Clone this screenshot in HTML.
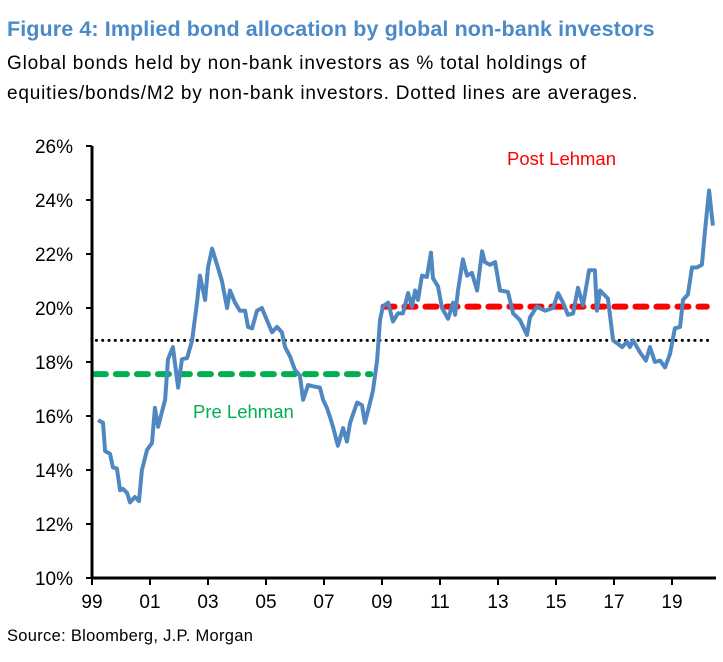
<!DOCTYPE html>
<html><head><meta charset="utf-8"><style>
body{margin:0;background:#fff;width:723px;height:662px;overflow:hidden;font-family:"Liberation Sans",sans-serif}
.t{position:absolute;left:7px;top:17px;font-size:21.5px;font-weight:bold;color:#4a8ac8;white-space:nowrap;letter-spacing:0.1px}
.s{position:absolute;left:7px;font-size:19px;color:#000;white-space:nowrap;letter-spacing:0.8px}
</style></head><body>
<div class="t">Figure 4: Implied bond allocation by global non-bank investors</div>
<div class="s" style="top:53px">Global bonds held by non-bank investors as % total holdings of</div>
<div class="s" style="top:83px">equities/bonds/M2 by non-bank investors. Dotted lines are averages.</div>
<svg id="c" width="723" height="662" style="position:absolute;left:0;top:0"></svg>
<script>
const yTicks=[10,12,14,16,18,20,22,24,26];
const xTicks=[1999,2001,2003,2005,2007,2009,2011,2013,2015,2017,2019];
const xTickLabels=["99","01","03","05","07","09","11","13","15","17","19"];
const dates=[1999.21,1999.38,1999.45,1999.62,1999.72,1999.86,1999.97,2000.07,2000.21,2000.31,2000.48,2000.62,2000.72,2000.9,2001.07,2001.17,2001.28,2001.52,2001.62,2001.79,2001.97,2002.1,2002.28,2002.45,2002.62,2002.72,2002.9,2003.0,2003.14,2003.34,2003.48,2003.66,2003.76,2003.93,2004.1,2004.28,2004.38,2004.52,2004.69,2004.86,2005.03,2005.21,2005.38,2005.55,2005.66,2005.83,2006.0,2006.17,2006.28,2006.45,2006.62,2006.86,2006.97,2007.1,2007.21,2007.31,2007.48,2007.66,2007.79,2007.9,2008.14,2008.31,2008.41,2008.59,2008.69,2008.83,2008.93,2009.03,2009.21,2009.38,2009.55,2009.72,2009.9,2010.03,2010.14,2010.24,2010.38,2010.55,2010.69,2010.76,2010.93,2011.07,2011.28,2011.45,2011.52,2011.62,2011.79,2011.93,2012.1,2012.28,2012.45,2012.55,2012.72,2012.9,2013.07,2013.34,2013.52,2013.76,2014.0,2014.1,2014.34,2014.62,2014.9,2015.07,2015.24,2015.41,2015.59,2015.76,2015.93,2016.14,2016.34,2016.41,2016.52,2016.79,2016.97,2017.1,2017.28,2017.45,2017.55,2017.66,2017.9,2018.1,2018.24,2018.41,2018.59,2018.76,2018.93,2019.1,2019.28,2019.38,2019.55,2019.69,2019.86,2020.03,2020.14,2020.28,2020.41];
const values=[15.85,15.75,14.7,14.6,14.1,14.05,13.25,13.3,13.15,12.8,13.0,12.85,14.0,14.75,15.0,16.3,15.6,16.6,18.1,18.55,17.05,18.1,18.15,18.8,20.2,21.2,20.3,21.5,22.2,21.5,21.0,20.0,20.65,20.2,19.9,19.9,19.3,19.25,19.9,20.0,19.55,19.1,19.3,19.1,18.55,18.2,17.7,17.5,16.6,17.15,17.1,17.05,16.6,16.3,15.95,15.6,14.9,15.55,15.05,15.75,16.5,16.4,15.75,16.5,16.95,18.05,19.55,20.05,20.2,19.5,19.8,19.8,20.55,20.05,20.65,20.3,21.2,21.15,22.05,21.1,20.8,20.0,19.6,20.2,19.75,20.65,21.8,21.2,21.3,20.65,22.1,21.7,21.6,21.7,20.65,20.6,19.8,19.55,19.0,19.65,20.05,19.9,20.0,20.55,20.2,19.75,19.8,20.75,20.1,21.4,21.4,19.9,20.65,20.35,18.8,18.7,18.55,18.75,18.55,18.8,18.35,18.05,18.55,18.0,18.05,17.8,18.3,19.25,19.3,20.3,20.5,21.5,21.5,21.6,22.9,24.35,23.05];
const avgNames=["overall","pre","post"];
const avgValues=[18.8,17.55,20.05];
const avgStart=[1999.15,1999.1,2009.05];
const avgEnd=[2020.4,2008.6,2020.2];
const avgColors=["#000","#00b050","#ff0000"];

const X=v=>92+(v-1999)*29, Y=v=>578-(v-10)*27;
const svg=document.getElementById('c'), NS='http://www.w3.org/2000/svg';
function mk(tag,a,p){const e=document.createElementNS(NS,tag);for(const k in a)e.setAttribute(k,a[k]);(p||svg).appendChild(e);return e;}
yTicks.forEach(v=>{
  const t=mk('text',{x:73,y:Y(v)+7,'text-anchor':'end','font-size':'19','font-family':'Liberation Sans, sans-serif'});
  t.textContent=v+'%';
  
  
  const l=mk('line',{x1:86,x2:92,y1:Y(v),y2:Y(v),stroke:'#000','stroke-width':2});
  
  
});
xTicks.forEach((v,i)=>{
  const l=mk('line',{x1:X(v),x2:X(v),y1:578,y2:585,stroke:'#000','stroke-width':2});
  
  
  const t=mk('text',{x:X(v),y:608,'text-anchor':'middle','font-size':'19','font-family':'Liberation Sans, sans-serif'});
  t.textContent=xTickLabels[i];
  
  
});
avgValues.forEach((v,i)=>{
  const a=i==0?{stroke:avgColors[i],'stroke-width':3,'stroke-dasharray':'0.1 6.2','stroke-linecap':'round'}:{stroke:avgColors[i],'stroke-width':6,'stroke-dasharray':'11 10','stroke-linecap':'round'};
  a.x1=X(avgStart[i]);a.x2=X(avgEnd[i]);a.y1=Y(v);a.y2=Y(v);
  const l=mk('line',a);
  
  
});
const p=mk('path',{d:dates.map((d,i)=>(i?'L':'M')+X(d).toFixed(1)+','+Y(values[i]).toFixed(1)).join(''),fill:'none',stroke:'#4f88c0','stroke-width':4,'stroke-linejoin':'round'});


mk('line',{x1:92,x2:92,y1:146,y2:579,stroke:'#000','stroke-width':3});
mk('line',{x1:91,x2:716,y1:578,y2:578,stroke:'#000','stroke-width':3});
const a1=mk('text',{x:193,y:418,'font-size':'18.5','fill':'#00b050','font-family':'Liberation Sans, sans-serif'});a1.textContent='Pre Lehman';


const a2=mk('text',{x:507,y:165,'font-size':'18.5','fill':'#ff0000','font-family':'Liberation Sans, sans-serif'});a2.textContent='Post Lehman';


const s=mk('text',{x:7,y:641,'font-size':'16.5','letter-spacing':'0.3','font-family':'Liberation Sans, sans-serif'});s.textContent='Source: Bloomberg, J.P. Morgan';


</script>
</body></html>
